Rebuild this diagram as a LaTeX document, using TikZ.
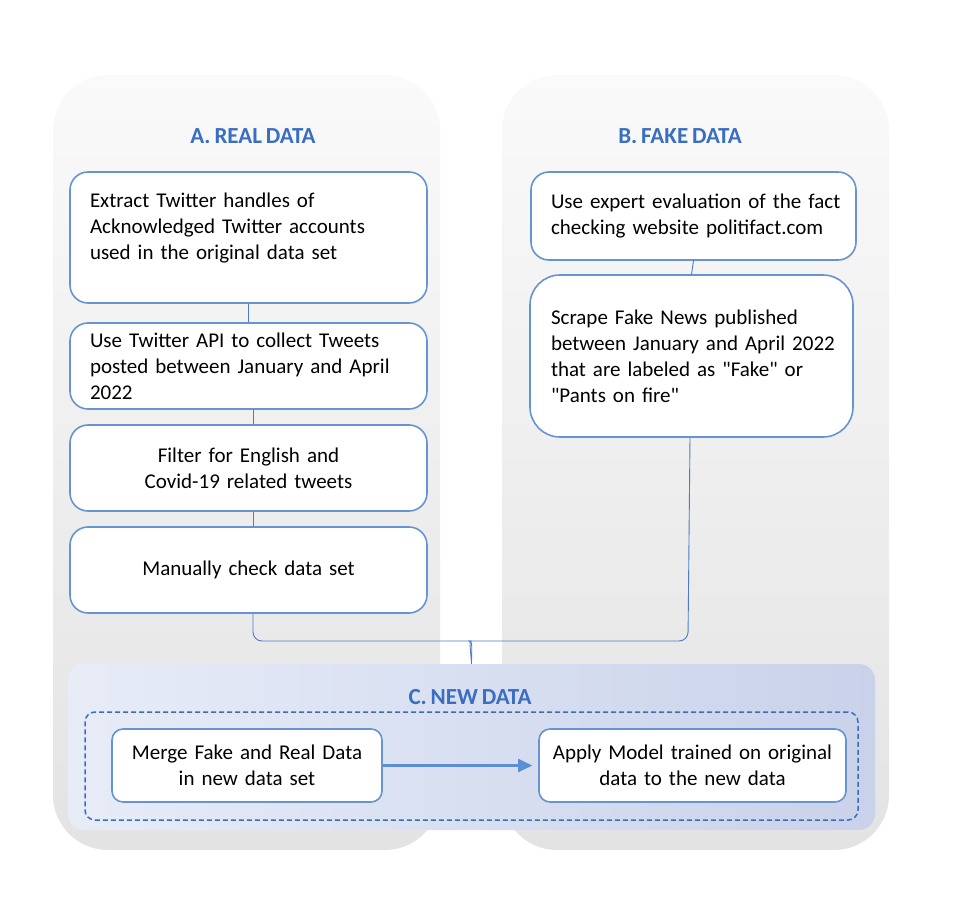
\documentclass[tikz,border=0pt]{standalone}
\usepackage{fontspec}
\setmainfont{Carlito}[WordSpace=0.75]
\usepackage{tikz}
\usetikzlibrary{arrows.meta}
\definecolor{boxblue}{HTML}{6694D2}
\definecolor{titleblue}{HTML}{3A6EC1}
\definecolor{linkblue}{HTML}{4C7CC8}
\definecolor{arrowblue}{HTML}{5B8ED5}
\definecolor{cleft}{HTML}{E7ECF7}
\definecolor{cmid}{HTML}{EBEFF8}
\definecolor{cright}{HTML}{C9D2EA}

\begin{document}
\begin{tikzpicture}[x=1pt,y=-1pt,
  panel/.style={rounded corners=55pt, top color=black!2, middle color=black!9, bottom color=black!11, minimum width=387pt, minimum height=775pt, inner sep=0pt},
  stepbox/.style={draw=boxblue, line width=1.6pt, fill=white, rounded corners=18pt, inner xsep=20pt, inner ysep=4pt, font=\fontsize{21}{26}\selectfont},
  heading/.style={text=titleblue, font=\fontsize{23}{26}\selectfont\bfseries},
  link/.style={linkblue, line width=0.9pt}]
  \useasboundingbox (0,0) rectangle (954,902);

  % Panels
  \node[panel] (pa) at (246.5,462.5) {};
  \node[panel] (pb) at (695.5,462.5) {};
  \node[rounded corners=16pt, left color=cleft, middle color=cmid, right color=cright, minimum width=807pt, minimum height=166pt, inner sep=0pt] (c0) at (471.5,747) {};
  \node[draw=titleblue, dash pattern=on 5pt off 3pt, line width=1.5pt, rounded corners=10pt, minimum width=773pt, minimum height=108pt, inner sep=0pt] (cd) at (471.5,766) {};

  % Headings
  \node[heading] (ta) at (253,136) {A. REAL DATA};
  \node[heading] (tb) at (680,136) {B. FAKE DATA};
  \node[heading] (tc) at (470,697) {C. NEW DATA};

  % Real data chain
  \node[stepbox, text width=317pt, align=left, minimum height=131pt] (a1) at (248.5,237.5)
    {Extract Twitter handles of\\ Acknowledged Twitter accounts\\ used in the original data set\\[-4pt]\mbox{}};
  \node[stepbox, text width=317pt, align=left, minimum height=86pt] (a2) at (248.5,366)
    {Use Twitter API to collect Tweets\\ \mbox{posted between January and April}\\ 2022};
  \node[stepbox, text width=317pt, align=center, minimum height=86pt] (a3) at (248.5,468)
    {Filter for English and\\ Covid-19 related tweets};
  \node[stepbox, text width=317pt, align=center, minimum height=86pt] (a4) at (248.5,570)
    {Manually check data set};

  % Fake data chain
  \node[stepbox, text width=285pt, align=left, minimum height=88pt] (b1) at (693.5,216)
    {\mbox{Use expert evaluation of the fact}\\ checking website politifact.com};
  \node[stepbox, rounded corners=30pt, inner xsep=21pt, text width=281pt, align=left, minimum height=162pt] (b2) at (691.5,356)
    {Scrape Fake News published\\ \mbox{between January and April 2022}\\ that are labeled as \textquotedbl Fake\textquotedbl{} or\\ \textquotedbl Pants on fire\textquotedbl};

  % New data
  \node[stepbox, rounded corners=11pt, inner xsep=8pt, text width=254pt, align=center, minimum height=73pt] (c1) at (247,765.5)
    {Merge Fake and Real Data\\ in new data set};
  \node[stepbox, rounded corners=11pt, inner xsep=8pt, text width=291pt, align=center, minimum height=73pt] (c2) at (692.5,765.5)
    {Apply Model trained on original\\ data to the new data};

  % Chain links
  \draw[link] (a1.south) -- (a2.north);
  \draw[link] ([xshift=4.5pt]a2.south) -- ([xshift=4.5pt]a3.north);
  \draw[link] ([xshift=4.5pt]a3.south) -- ([xshift=4.5pt]a4.north);
  \draw[link] (b1.south) -- (b2.north);

  % Brace into new data
  \coordinate (jl) at (462,641);
  \coordinate (jr) at (478,641);
  \draw[link] ([xshift=4.5pt]a4.south) [rounded corners=9pt] |- (jl) [sharp corners] .. controls (469,641) and (470.5,648) .. (c0.north);
  \draw[link] ([xshift=-1.5pt]b2.south) [rounded corners=9pt] -- (688,641) -- (jr) [sharp corners] .. controls (473,641) and (471.5,648) .. (c0.north);

  % Merge to model
  \draw[arrowblue, line width=2.2pt, -{Triangle[length=14pt,width=13pt]}, shorten >=6pt] (c1.east) -- (c2.west);
\end{tikzpicture}
\end{document}
